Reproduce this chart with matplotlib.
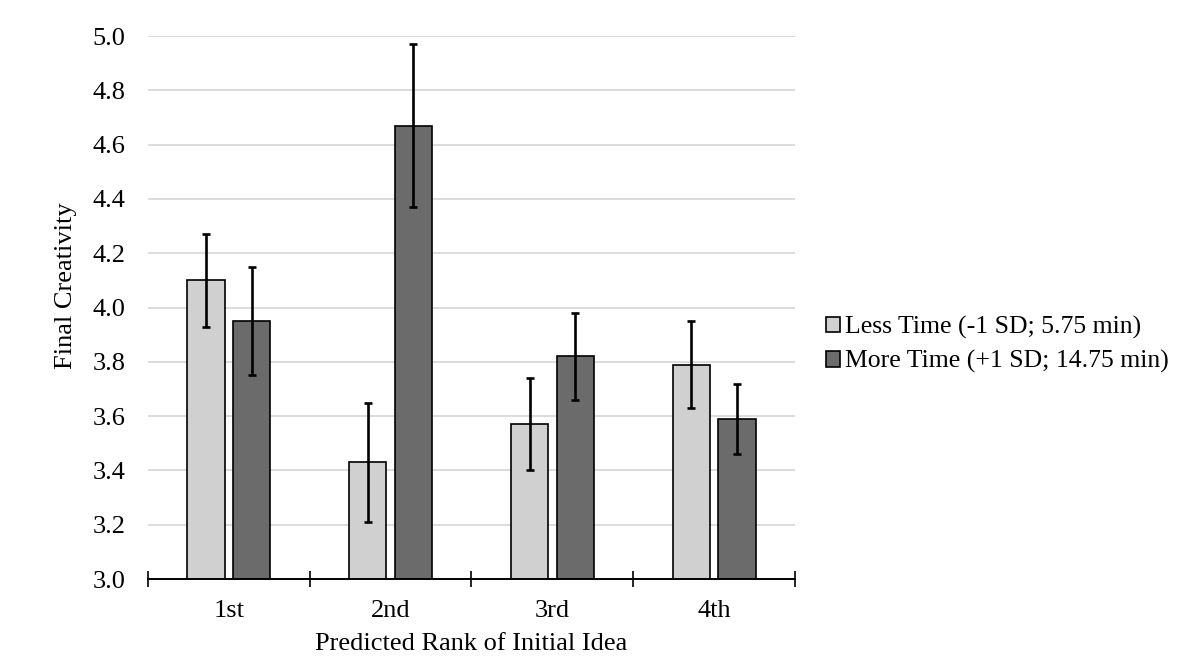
import matplotlib
matplotlib.use("Agg")
import matplotlib.pyplot as plt
import numpy as np
from matplotlib.ticker import FixedLocator

categories = ["1st", "2nd", "3rd", "4th"]
less_time = [4.10, 3.43, 3.57, 3.79]
more_time = [3.95, 4.67, 3.82, 3.59]
less_err = [0.17, 0.22, 0.17, 0.16]
more_err = [0.20, 0.30, 0.16, 0.13]
series_names = ["Less Time (-1 SD; 5.75 min)", "More Time (+1 SD; 14.75 min)"]
yticks = [3.0, 3.2, 3.4, 3.6, 3.8, 4.0, 4.2, 4.4, 4.6, 4.8, 5.0]

plt.rcParams["font.family"] = ["Liberation Serif", "DejaVu Serif"]

fig = plt.figure(figsize=(12, 6.69), dpi=100)
ax = fig.add_axes([0.1233, 0.1345, 0.5392, 0.8115])

x = np.arange(len(categories))
w = 0.23
off = 0.141
ax.bar(x - off, less_time, w, color="#d0d0d0", edgecolor="black", linewidth=1.2, zorder=3,
       label=series_names[0])
ax.bar(x + off, more_time, w, color="#6b6b6b", edgecolor="black", linewidth=1.2, zorder=3,
       label=series_names[1])
ax.errorbar(x - off, less_time, yerr=less_err, fmt="none", ecolor="black", elinewidth=1.9,
            capsize=3, capthick=1.9, zorder=4)
ax.errorbar(x + off, more_time, yerr=more_err, fmt="none", ecolor="black", elinewidth=1.9,
            capsize=3, capthick=1.9, zorder=4)

ax.set_ylim(3.0, 5.0)
ax.set_xlim(-0.5, len(categories) - 0.5)
ax.set_yticks(yticks)
ax.set_yticklabels([f"{t:.1f}" for t in yticks], fontsize=19)
ax.set_xticks(x)
ax.set_xticklabels(categories, fontsize=19)
ax.tick_params(axis="x", which="major", length=0, pad=15)
ax.xaxis.set_minor_locator(FixedLocator(np.arange(-0.5, len(categories), 1.0)))
ax.tick_params(axis="x", which="minor", length=12, direction="inout", width=1.2)
ax.tick_params(axis="y", length=0, pad=16)
ax.grid(axis="y", color="#d9d9d9", linewidth=1.3, zorder=0)
for s in ["left", "right", "top"]:
    ax.spines[s].set_visible(False)
ax.spines["bottom"].set_linewidth(1.4)
ax.spines["bottom"].set_zorder(5)

ax.set_xlabel("Predicted Rank of Initial Idea", fontsize=19, labelpad=8)
ax.set_ylabel("Final Creativity", fontsize=19)
ax.yaxis.set_label_coords(-0.110, 0.541)

fig.legend(loc="center left", bbox_to_anchor=(0.669, 0.485), frameon=False, fontsize=18.5,
           handlelength=0.55, handleheight=0.55, handletextpad=0.2, labelspacing=0.45)

fig.savefig("out.png", dpi=100)
